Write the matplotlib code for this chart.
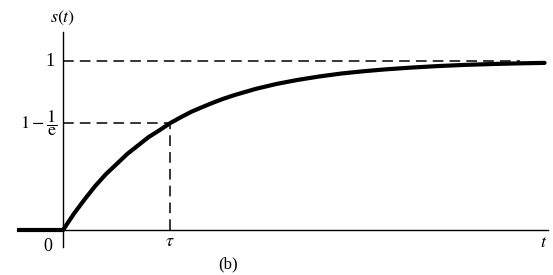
import numpy as np
import matplotlib.pyplot as plt

plt.rcParams['mathtext.fontset'] = 'stix'
plt.rcParams['font.family'] = 'Liberation Serif'

# time in units of tau, response
t_vals = [0, 0.1, 0.2, 0.3, 0.4, 0.5, 0.6, 0.7, 0.8, 0.9, 1.0, 1.1, 1.2, 1.3,
          1.4, 1.5, 1.6, 1.8, 2.0, 2.2, 2.4, 2.6, 2.8, 3.0, 3.25, 3.5, 3.75,
          4.0, 4.25, 4.5]
s_vals = [0, 0.095, 0.18, 0.26, 0.33, 0.39, 0.45, 0.50, 0.55, 0.59, 0.632,
          0.667, 0.70, 0.727, 0.753, 0.777, 0.798, 0.835, 0.865, 0.889,
          0.909, 0.926, 0.939, 0.95, 0.961, 0.97, 0.977, 0.982, 0.986, 0.989]
t_before = [-0.43, 0]
s_before = [0, 0]
tau = 1.0
level = 0.632

fig = plt.figure(figsize=(5.53, 2.75), dpi=100)
ax = fig.add_axes([0, 0, 1, 1])
ax.set_xlim(-0.589, 4.579)
ax.set_ylim(-0.266, 1.361)
ax.axis('off')

# axes
ax.plot([-0.43, 4.53], [0, 0], color='black', lw=1.0)
ax.plot([0, 0], [-0.1, 1.17], color='black', lw=1.0)

# dashed guides
dash = dict(color='black', lw=1.1, dashes=(7, 4))
ax.plot([0, 4.27], [1, 1], **dash)
ax.plot([0, tau], [level, level], **dash)
ax.plot([tau, tau], [0, level], **dash)

# response
ax.plot(t_before, s_before, color='black', lw=3, solid_capstyle='butt')
ax.plot(t_vals, s_vals, color='black', lw=3, solid_capstyle='round',
        solid_joinstyle='round')

# labels
ax.text(0.0, 1.255, r'$s(t)$', ha='center', va='center', fontsize=13)
ax.text(-0.08, 1.0, '1', ha='right', va='center', fontsize=13)
ax.text(-0.05, level, r'$1-\dfrac{1}{\mathrm{e}}$', ha='right', va='center', fontsize=13)
ax.text(-0.14, -0.1, '0', ha='center', va='center', fontsize=13)
ax.text(tau, -0.065, r'$\tau$', ha='center', va='center', fontsize=13)
ax.text(4.49, -0.075, r'$t$', ha='center', va='center', fontsize=13)
ax.text(1.54, -0.205, '(b)', ha='center', va='center', fontsize=12)

fig.savefig('out.png', dpi=100)
